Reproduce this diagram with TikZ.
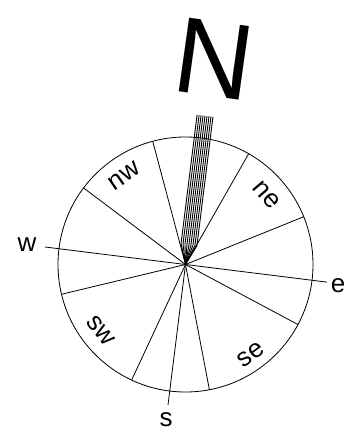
\documentclass[tikz,border=0pt]{standalone}
\usepackage{fontspec}
\setmainfont{Liberation Sans}
\begin{document}
\begin{tikzpicture}[x=1pt,y=1pt,line width=0.8pt,
  lbl/.style={inner sep=0pt,font=\fontsize{26}{26}\selectfont},
  spoke/.style={line width=0.8pt},
  hatch/.style={line width=0.9pt}]
\useasboundingbox (0,0) rectangle (343,433);
\coordinate (c) at (185.5,168.5);
\draw (c) circle (127.5);
\foreach \a [count=\i] in {104.9,143.1,60.3,22.0,193.5,245.0,280.8,331.9}{
  \path (c) ++(\a:127.5) coordinate (r\i);
  \draw[spoke] (c) -- (r\i);
}
\path (c) ++(172.9:141.6) coordinate (wend);
\path (c) ++(-7.1:142.6) coordinate (eend);
\path (c) ++(262.9:141.6) coordinate (send);
\draw[spoke] (wend) -- (eend);
\draw[spoke] (c) -- (send);
\begin{scope}[shift={(c)},rotate=-7.1]
  \foreach \x in {-7,-5,...,9}{
    \draw[hatch] (0,0) -- (\x,20) -- (\x,150);
  }
\end{scope}
\node[inner sep=0pt,rotate=-8,font=\fontsize{108}{108}\selectfont] (nl) at (214,373.5) {N};
\node[lbl] (wl) at (27,188) {w};
\node[lbl] (el) at (338,147.5) {e};
\node[lbl] (sl) at (166,13) {s};
\node[lbl,rotate=34.6] (nwl) at (124.5,257) {nw};
\node[lbl,rotate=-49.4] (nel) at (266.5,238) {ne};
\node[lbl,rotate=-51.8] (swl) at (101,102) {sw};
\node[lbl,rotate=36] (sel) at (251,78.5) {se};
\end{tikzpicture}
\end{document}
